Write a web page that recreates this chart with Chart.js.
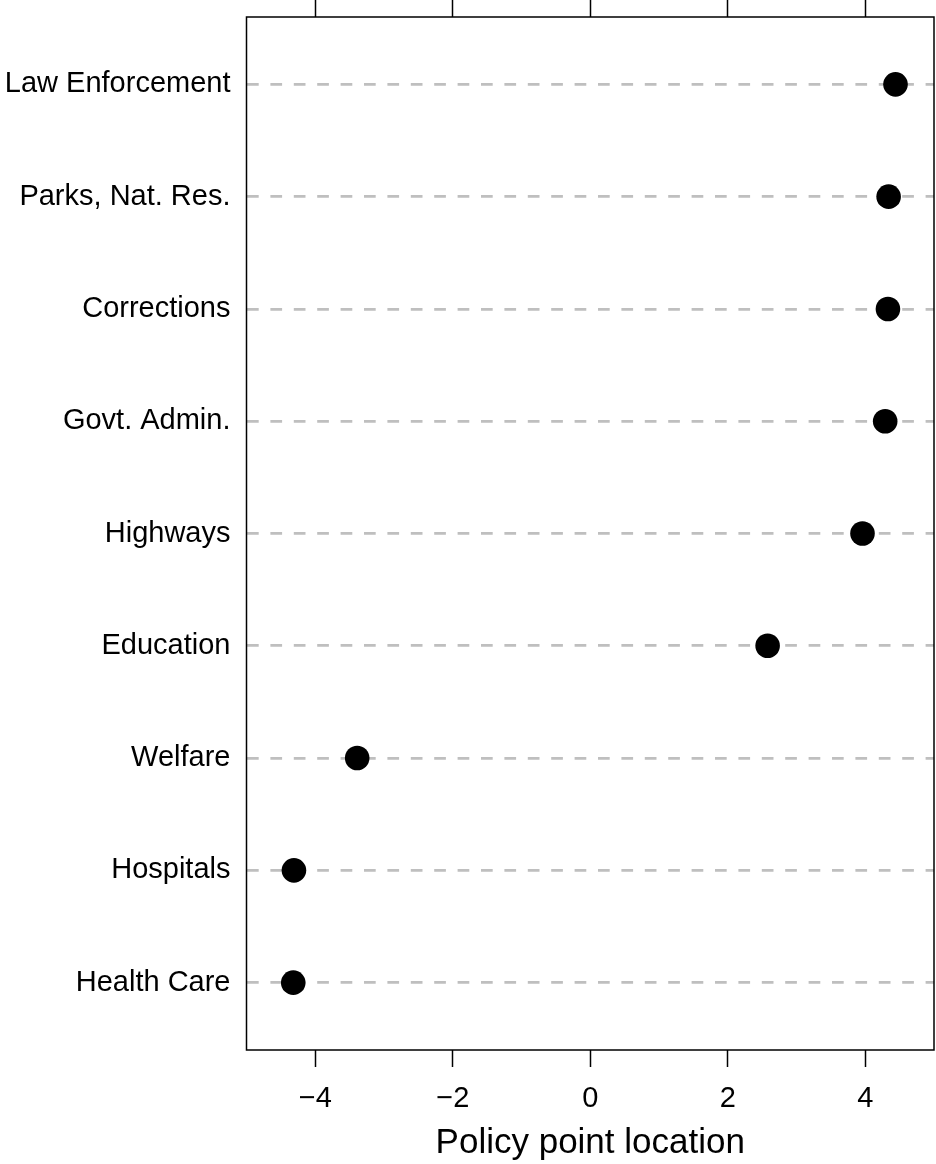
<!DOCTYPE html>
<html>
<head>
<meta charset="utf-8">
<script src="https://cdn.jsdelivr.net/npm/chart.js@4"></script>
<style>
  html, body { margin: 0; padding: 0; background: #fff; }
  #wrap { width: 936px; height: 1164px; }
</style>
</head>
<body>
<div id="wrap"><canvas id="dotChart" width="936" height="1164"></canvas></div>
<script>
// --- DATA (top row first) ---
const categories = ['Law Enforcement', 'Parks, Nat. Res.', 'Corrections', 'Govt. Admin.', 'Highways', 'Education', 'Welfare', 'Hospitals', 'Health Care'];
const locations = [4.44, 4.34, 4.33, 4.29, 3.96, 2.58, -3.39, -4.31, -4.32];
const xTicks = [-4, -2, 0, 2, 4];
const xTitle = 'Policy point location';

const FONT = '"Liberation Sans", Arial, Helvetica, sans-serif';
const n = categories.length;
const rowOf = i => n - i;   // first category sits on top

const points = categories.map((c, i) => ({ x: locations[i], y: rowOf(i) }));

function fmtTick(v) { return v < 0 ? '\u2212' + Math.abs(v) : String(v); }

// no extra room for overhanging labels, the box is fixed
function noPad(s) { s.paddingLeft = 0; s.paddingRight = 0; s.paddingTop = 0; s.paddingBottom = 0; }

// box around the plotting region
const boxPlugin = {
    id: 'box',
    afterDraw(chart) {
        const { ctx, chartArea: a } = chart;
        ctx.save();
        ctx.strokeStyle = '#000';
        ctx.lineWidth = 1.5;
        ctx.strokeRect(a.left, a.top, a.right - a.left, a.bottom - a.top);
        ctx.restore();
    }
};

new Chart(document.getElementById('dotChart').getContext('2d'), {
    type: 'scatter',
    data: {
        datasets: [{
            data: points,
            backgroundColor: '#000',
            borderWidth: 0,
            pointRadius: 12.3,
            pointHoverRadius: 12.3
        }]
    },
    options: {
        responsive: false,
        animation: false,
        layout: { autoPadding: false, padding: { left: 0, right: 2, top: 0, bottom: 0 } },
        plugins: { legend: { display: false }, tooltip: { enabled: false } },
        scales: {
            x: {
                type: 'linear', position: 'bottom', min: -5, max: 5,
                afterBuildTicks: s => { s.ticks = xTicks.map(v => ({ value: v })); },
                afterFit: s => { s.height = 114; noPad(s); },
                border: { display: false },
                grid: { drawOnChartArea: false, drawTicks: true, tickLength: 17, tickColor: '#000', tickWidth: 1.5 },
                ticks: { color: '#000', padding: 15, font: { family: FONT, size: 29 }, callback: v => fmtTick(v), maxRotation: 0 },
                title: { display: true, text: xTitle, color: '#000', padding: 0, font: { family: FONT, size: 35 } }
            },
            x2: {
                type: 'linear', position: 'top', min: -5, max: 5,
                afterBuildTicks: s => { s.ticks = xTicks.map(v => ({ value: v })); },
                afterFit: s => { s.height = 17; noPad(s); },
                border: { display: false },
                grid: { drawOnChartArea: false, drawTicks: true, tickLength: 17, tickColor: '#000', tickWidth: 1.5 },
                ticks: { display: false }
            },
            y: {
                type: 'linear', position: 'left', min: 0.4, max: 9.6,
                afterBuildTicks: s => { s.ticks = categories.map((c, i) => ({ value: rowOf(i) })); },
                afterFit: s => { s.width = 246.5; noPad(s); },
                border: { display: false, dash: [11.7, 11.7] },
                grid: { drawOnChartArea: true, drawTicks: false, color: '#bfbfbf', lineWidth: 2.7 },
                ticks: {
                    color: '#000', padding: 16, font: { family: FONT, size: 29 },
                    callback: v => categories[n - v]
                }
            }
        }
    },
    plugins: [boxPlugin]
});
</script>
</body>
</html>
